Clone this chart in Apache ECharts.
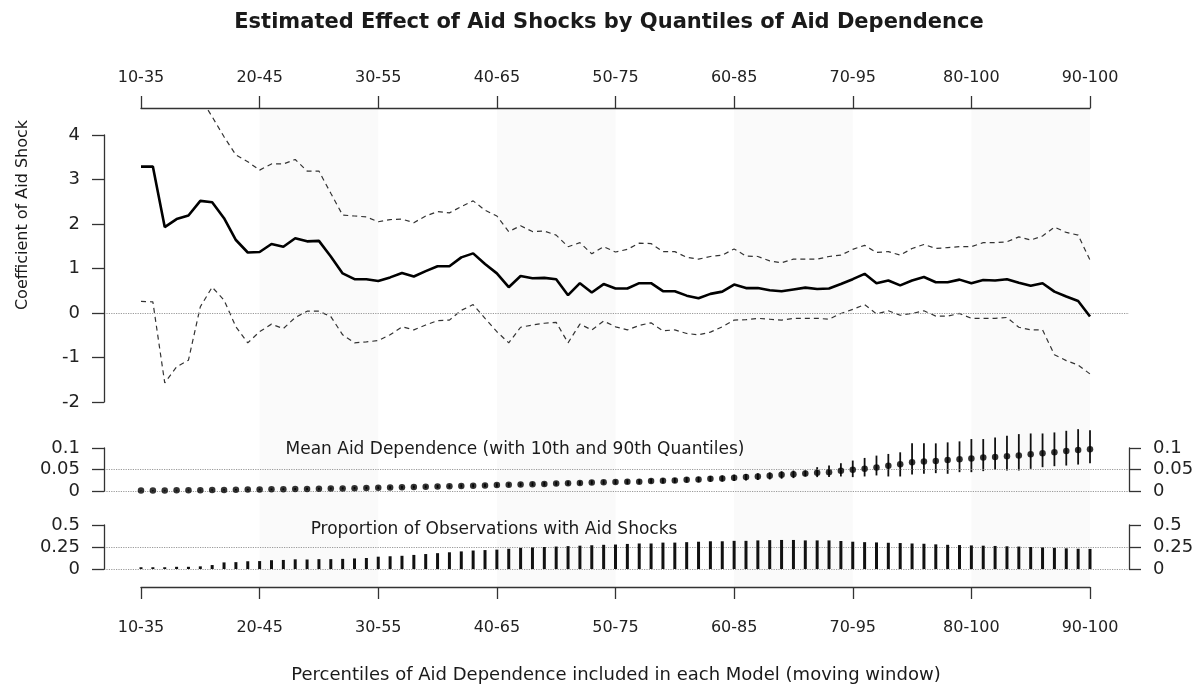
<!DOCTYPE html>
<html><head><meta charset="utf-8">
<script src="https://cdn.jsdelivr.net/npm/echarts@6/dist/echarts.min.js"></script>
<style>html,body{margin:0;padding:0;background:#fff}#c{width:1203px;height:690px}</style>
</head><body><div id="c"></div>
<script>
// ---- data ----
const tickLabels = ['10-35','20-45','30-55','40-65','50-75','60-85','70-95','80-100','90-100'];
const shadedWindows = [[10,20],[30,40],[50,60],[70,80]];
const coef = [3.29,3.29,1.93,2.11,2.19,2.52,2.49,2.13,1.64,1.36,
  1.37,1.55,1.49,1.68,1.61,1.62,1.27,0.89,0.76,0.76,
  0.72,0.80,0.90,0.82,0.94,1.05,1.05,1.25,1.34,1.10,
  0.89,0.58,0.83,0.78,0.79,0.76,0.40,0.67,0.46,0.65,
  0.55,0.55,0.67,0.67,0.49,0.49,0.39,0.33,0.43,0.48,
  0.64,0.56,0.56,0.51,0.49,0.53,0.57,0.54,0.55,0.65,
  0.76,0.88,0.67,0.73,0.62,0.73,0.81,0.69,0.69,0.75,
  0.67,0.74,0.73,0.76,0.68,0.61,0.67,0.48,0.37,0.27,
  -0.08];
const upper = [6.31,6.31,5.46,5.42,5.38,4.84,4.41,3.96,3.55,3.40,
  3.21,3.35,3.35,3.45,3.19,3.19,2.69,2.20,2.18,2.16,
  2.05,2.10,2.11,2.03,2.18,2.28,2.25,2.39,2.52,2.31,
  2.18,1.83,1.96,1.83,1.84,1.75,1.49,1.58,1.33,1.49,
  1.37,1.43,1.57,1.56,1.38,1.38,1.25,1.21,1.27,1.30,
  1.44,1.28,1.27,1.17,1.13,1.21,1.21,1.21,1.27,1.30,
  1.43,1.52,1.36,1.38,1.30,1.45,1.54,1.45,1.47,1.49,
  1.49,1.58,1.58,1.60,1.71,1.64,1.73,1.93,1.81,1.75,
  1.19];
const lower = [0.26,0.25,-1.57,-1.21,-1.06,0.14,0.58,0.29,-0.31,-0.67,
  -0.42,-0.25,-0.35,-0.10,0.04,0.04,-0.08,-0.49,-0.67,-0.65,
  -0.62,-0.49,-0.31,-0.38,-0.27,-0.17,-0.16,0.06,0.19,-0.12,
  -0.42,-0.67,-0.32,-0.27,-0.23,-0.21,-0.67,-0.25,-0.38,-0.18,
  -0.31,-0.38,-0.28,-0.22,-0.40,-0.38,-0.46,-0.49,-0.43,-0.31,
  -0.16,-0.15,-0.12,-0.14,-0.16,-0.12,-0.12,-0.12,-0.14,-0.01,
  0.08,0.19,-0.02,0.05,-0.05,-0.01,0.05,-0.07,-0.07,-0.01,
  -0.12,-0.12,-0.12,-0.10,-0.32,-0.38,-0.38,-0.94,-1.07,-1.17,
  -1.37];
const meanDep = [0.001,0.0012,0.0014,0.0016,0.0018,0.002,0.0023,0.0026,0.0029,0.0032,
  0.0035,0.0038,0.0041,0.0045,0.0049,0.0053,0.0057,0.0061,0.0066,0.0071,
  0.0076,0.0081,0.0086,0.0092,0.0098,0.0104,0.011,0.0116,0.0123,0.013,
  0.0137,0.0144,0.0151,0.0158,0.0165,0.0172,0.018,0.0188,0.0196,
  0.0202,0.0208,0.0213,0.0218,0.0231,0.0238,0.0246,0.0262,0.0269,0.0285,
  0.0292,0.0308,0.0323,0.0338,0.0354,0.0377,0.0392,0.0408,0.0423,0.0438,
  0.0469,0.0492,0.0515,0.0546,0.0585,0.0623,0.0669,0.0685,0.070,0.0723,
  0.0738,0.0754,0.0777,0.0792,0.0808,0.0823,0.0854,0.0877,0.090,0.0931,
  0.0954,0.0969];
const q90 = [0.002,0.0023,0.0026,0.0029,0.0032,0.0035,0.0039,0.0043,0.0047,0.0051,
  0.0055,0.0059,0.0063,0.0068,0.0073,0.0078,0.0083,0.0088,0.0094,0.01,
  0.0106,0.0112,0.0118,0.0125,0.0132,0.0139,0.0146,0.0153,0.0161,0.0169,
  0.0177,0.0185,0.0193,0.0201,0.0209,0.0217,0.0226,0.0235,0.0246,
  0.0252,0.0258,0.0264,0.027,0.0287,0.0295,0.0304,0.0322,0.0331,0.0349,
  0.036,0.0378,0.0395,0.0412,0.0432,0.0458,0.0475,
  0.0477,0.0554,0.0592,0.0646,0.0708,0.0769,0.0823,0.0862,0.090,0.1108,
  0.1108,0.1108,0.1131,0.1154,0.1208,0.1208,0.1246,0.1285,0.1323,0.1338,
  0.1338,0.1362,0.140,0.1438,0.1415];
const q10 = [0.0004,0.0005,0.0006,0.0007,0.0008,0.0009,0.001,0.0012,0.0013,0.0015,
  0.0017,0.0019,0.0021,0.0023,0.0026,0.0029,0.0032,0.0035,0.0039,0.0043,
  0.0047,0.0051,0.0055,0.006,0.0065,0.007,0.0075,0.008,0.0086,0.0092,
  0.0098,0.0104,0.011,0.0116,0.0122,0.0128,0.0135,0.0142,0.015,
  0.0155,0.016,0.0164,0.0168,0.0178,0.0183,0.0188,0.0198,0.0203,0.0214,
  0.022,0.0232,0.0244,0.0256,0.0268,0.0285,0.030,
  0.0338,0.0323,0.0323,0.0338,0.0323,0.0338,0.0362,0.0338,0.0338,0.0385,
  0.040,0.0415,0.040,0.0438,0.0438,0.0462,0.0492,0.0477,0.0477,0.0515,
  0.0554,0.0577,0.0592,0.0615,0.0646];
const propShock = [0.02,0.02,0.02,0.025,0.025,0.03,0.045,0.075,0.078,0.088,
  0.09,0.1,0.103,0.11,0.108,0.112,0.112,0.115,0.12,0.125,
  0.14,0.145,0.15,0.16,0.17,0.18,0.19,0.2,0.21,0.215,
  0.22,0.23,0.24,0.245,0.25,0.255,0.26,0.265,0.27,
  0.275,0.278,0.285,0.29,0.29,0.3,0.3,0.305,0.31,0.315,
  0.315,0.32,0.32,0.325,0.328,0.33,0.33,0.325,0.325,0.325,
  0.318,0.31,0.305,0.302,0.298,0.295,0.29,0.287,0.28,0.275,
  0.272,0.268,0.265,0.262,0.258,0.255,0.25,0.245,0.24,0.235,
  0.23,0.228];

// ---- chart ----
const FONT = 'DejaVu Sans';
const axisColor = '#333';
const lineCol = {color: axisColor, width: 1.3};
const refLine = {color: '#9a9a9a', type: 'dotted', width: 1.2};
const idx = arr => arr.map((v, i) => [i, v]);

const mainTop = 108, mainAxisTop = 135, mainBottom = 402;
const mainYMin = -2, mainYMax = 4;
const mainDataMax = mainYMin + (mainYMax - mainYMin) * (mainBottom - mainTop) / (mainBottom - mainAxisTop);

function hiddenX(g, min, max) { return {gridIndex: g, type: 'value', min, max, show: false}; }
function hiddenY(g, min, max) { return {gridIndex: g, type: 'value', min, max, show: false}; }
function visY(g, pos, min, max, interval, size) {
  return {gridIndex: g, type: 'value', position: pos, min, max, interval, z: 10,
    axisLine: {show: true, onZero: false, lineStyle: lineCol},
    axisTick: {show: true, inside: false, length: 12, lineStyle: lineCol},
    axisLabel: {show: true, margin: 24, color: '#222', fontFamily: FONT, fontSize: size},
    splitLine: {show: false}};
}
function visX(g, pos, margin) {
  return {gridIndex: g, type: 'value', position: pos, min: 0, max: 80, interval: 10, z: 10,
    axisLine: {show: true, onZero: false, lineStyle: lineCol},
    axisTick: {show: true, inside: false, length: 12, lineStyle: lineCol},
    axisLabel: {show: true, margin, color: '#222', fontFamily: FONT, fontSize: 16,
      formatter: v => tickLabels[Math.round(v / 10)]},
    splitLine: {show: false}};
}
function refSeries(xi, yi, vals) {
  return {type: 'line', xAxisIndex: xi, yAxisIndex: yi, data: [], silent: true, z: 3,
    markLine: {silent: true, symbol: 'none', label: {show: false}, lineStyle: refLine,
      data: vals.map(v => ({yAxis: v}))}};
}
function txt(x, y, text, font, rot) {
  return {type: 'text', x, y, rotation: rot || 0, silent: true, z: 100,
    style: {text, font, fill: '#1a1a1a', textAlign: 'center', textVerticalAlign: 'middle'}};
}

const option = {
  animation: false,
  backgroundColor: '#fff',
  grid: [
    {left: 141, width: 949, top: 108, height: 479, outerBoundsMode: 'none'},
    {left: 141, width: 949, top: mainTop, height: mainBottom - mainTop, outerBoundsMode: 'none'},
    {left: 104, width: 1025, top: mainAxisTop, height: mainBottom - mainAxisTop, outerBoundsMode: 'none'},
    {left: 104, width: 1025, top: 448, height: 43, outerBoundsMode: 'none'},
    {left: 141, width: 949, top: 448, height: 43, outerBoundsMode: 'none'},
    {left: 104, width: 1025, top: 525, height: 44, outerBoundsMode: 'none'},
    {left: 141, width: 949, top: 525, height: 44, outerBoundsMode: 'none'}
  ],
  xAxis: [
    visX(0, 'bottom', 33),
    visX(1, 'top', 22),
    hiddenX(2, 0, 1),
    hiddenX(3, 0, 1),
    hiddenX(4, 0, 80),
    hiddenX(5, 0, 1),
    hiddenX(6, 0, 80)
  ],
  yAxis: [
    hiddenY(0, 0, 1),
    hiddenY(1, mainYMin, mainDataMax),
    visY(2, 'left', mainYMin, mainYMax, 1, 18),
    visY(3, 'left', 0, 0.1, 0.05, 18),
    visY(3, 'right', 0, 0.1, 0.05, 18),
    hiddenY(4, 0, 0.1),
    visY(5, 'left', 0, 0.5, 0.25, 18),
    visY(5, 'right', 0, 0.5, 0.25, 18),
    hiddenY(6, 0, 0.5)
  ],
  series: [
    {type: 'line', xAxisIndex: 0, yAxisIndex: 0, data: [], silent: true, z: -5,
      markArea: {silent: true, itemStyle: {color: '#fafafa'},
        data: shadedWindows.map(w => [{xAxis: w[0]}, {xAxis: w[1]}])}},
    refSeries(2, 2, [0]),
    {type: 'line', xAxisIndex: 1, yAxisIndex: 1, data: idx(upper), symbol: 'none', silent: true, z: 4,
      lineStyle: {color: '#333', width: 1.2, type: [5, 4]}},
    {type: 'line', xAxisIndex: 1, yAxisIndex: 1, data: idx(lower), symbol: 'none', silent: true, z: 4,
      lineStyle: {color: '#333', width: 1.2, type: [5, 4]}},
    {type: 'line', xAxisIndex: 1, yAxisIndex: 1, data: idx(coef), symbol: 'none', silent: true, z: 5,
      lineStyle: {color: '#000', width: 2.6}},
    refSeries(3, 3, [0.05, 0]),
    {type: 'custom', xAxisIndex: 4, yAxisIndex: 5, clip: false, silent: true, z: 4,
      data: q10.map((v, i) => [i, v, q90[i]]),
      encode: {x: 0, y: [1, 2]},
      renderItem: (params, api) => {
        const a = api.coord([api.value(0), api.value(1)]);
        const b = api.coord([api.value(0), api.value(2)]);
        return {type: 'line', shape: {x1: a[0], y1: a[1], x2: b[0], y2: b[1]},
          style: {stroke: '#111', lineWidth: 1.8}};
      }},
    {type: 'scatter', xAxisIndex: 4, yAxisIndex: 5, data: idx(meanDep), symbol: 'circle',
      symbolSize: 6.5, silent: true, itemStyle: {color: '#000'}, z: 5},
    refSeries(5, 6, [0.25, 0]),
    {type: 'bar', xAxisIndex: 6, yAxisIndex: 8, data: idx(propShock), barWidth: 3, silent: true, z: 5,
      itemStyle: {color: '#111'}}
  ],
  graphic: [
    {type: 'group', z: 100, children: [
      txt(609, 23, 'Estimated Effect of Aid Shocks by Quantiles of Aid Dependence', 'bold 21px "DejaVu Sans"'),
      txt(23, 215, 'Coefficient of Aid Shock', '16px "DejaVu Sans"', Math.PI / 2),
      txt(515, 450, 'Mean Aid Dependence (with 10th and 90th Quantiles)', '17px "DejaVu Sans"'),
      txt(494, 530, 'Proportion of Observations with Aid Shocks', '17px "DejaVu Sans"'),
      txt(616, 675, 'Percentiles of Aid Dependence included in each Model (moving window)', '18px "DejaVu Sans"')
    ]}
  ]
};
const chart = echarts.init(document.getElementById('c'), null, {renderer: 'canvas'});
chart.setOption(option);
</script></body></html>
